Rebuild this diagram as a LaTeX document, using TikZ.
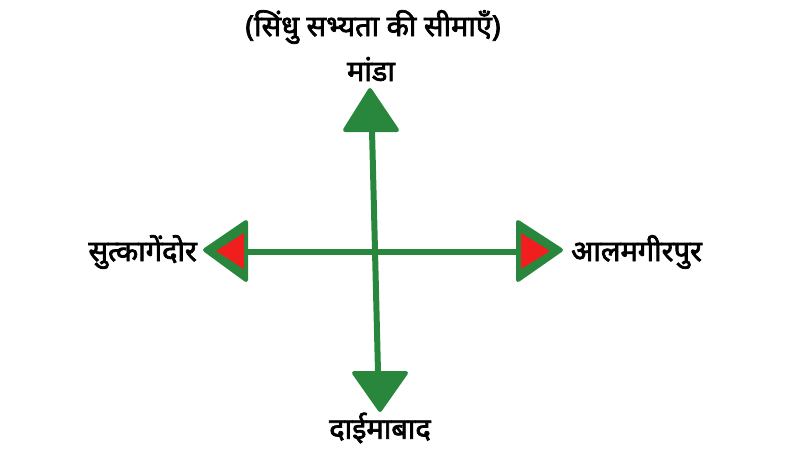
\documentclass[tikz,border=0pt]{standalone}
\usepackage{fontspec}
\newfontfamily\dev[Script=Devanagari,FakeBold=2.5]{Noto Sans}
\definecolor{gr}{RGB}{40,135,60}
\definecolor{rd}{RGB}{240,30,30}
\begin{document}
\begin{tikzpicture}[x=1pt,y=-1pt,
  lbl/.style={font=\dev\fontsize{29}{34}\selectfont,inner sep=0},
  shaft/.style={draw=gr,line width=6},
  head/.style={draw=gr,fill=gr,line width=4,line join=round}]
\useasboundingbox (0,0) rectangle (810,450);
\coordinate (tt) at (370,90);
\coordinate (bt) at (380,410);
\coordinate (lt) at (205,250);
\coordinate (rt) at (561,250);
\draw[shaft] (372,130) -- (378,372);
\draw[shaft] (245,252) -- (520,252);
\draw[head] (tt) -- (345,130) -- (397,130) -- cycle;
\draw[head] (bt) -- (354,373) -- (406,373) -- cycle;
\draw[head] (lt) -- (246,222) -- (246,280) -- cycle;
\draw[fill=rd,draw=none] (216,251) -- (244,233) -- (244,269) -- cycle;
\draw[head] (rt) -- (518,222) -- (518,280) -- cycle;
\draw[fill=rd,draw=none] (550,251) -- (521,233) -- (521,269) -- cycle;
\node[lbl] (title) at (373,27) {(सिंधु सभ्यता की सीमाएँ)};
\node[lbl] (n) at (371,69) {मांडा};
\node[lbl] (s) at (380,428) {दाईमाबाद};
\node[lbl,anchor=east] (w) at (197,252) {सुत्कागेंदोर};
\node[lbl,anchor=west] (e) at (571,252) {आलमगीरपुर};
\end{tikzpicture}
\end{document}
